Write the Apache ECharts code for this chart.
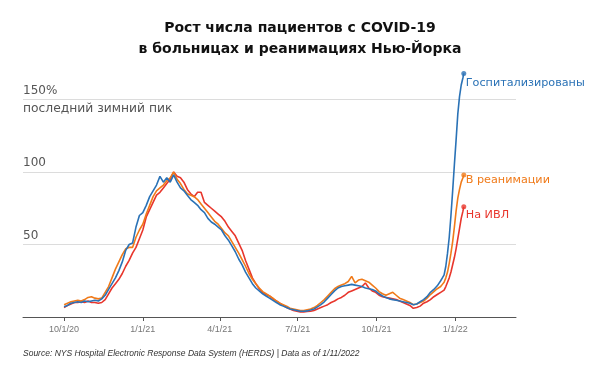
<!DOCTYPE html>
<html>
<head>
<meta charset="utf-8">
<script src="https://cdn.jsdelivr.net/npm/echarts@6/dist/echarts.min.js"></script>
<style>
html,body{margin:0;padding:0;background:#fff;}
#chart{width:600px;height:373px;}
</style>
</head>
<body>
<div id="chart"></div>
<script>
// Days since 10/1/2020
const days = [
  0,4,8,12,16,20,24,28,32,36,
  40,44,48,52,56,60,64,68,72,76,
  80,84,88,92,96,100,104,108,112,116,
  120,124,128,132,136,140,144,148,152,156,
  160,164,168,172,176,180,184,188,192,196,
  200,204,208,212,216,220,224,228,232,236,
  240,244,248,252,256,260,264,268,272,276,
  280,284,288,292,296,300,304,308,312,316,
  320,324,328,332,336,340,344,348,352,356,
  360,364,368,372,376,380,384,388,392,396,
  400,404,408,412,416,420,424,428,432,436,
  440,442,444,446,448,450,452,454,456,458,
  460,462,464,466,467
];
// % of last winter peak
const hospitalized = [
  7,8,9.5,10,10.5,10,11,10.5,11,11.5,
  11,12.5,15,19,23,27,32,38,46,50,
  51,62,70,72,77,83,87,91,97,93,
  96,93,98,93,89,87,84,81,79,77,
  74,72,68,65.5,64,62,60,56,53,49,
  45,40,36,31,27,23,20,18,16,14.5,
  13,11.5,10,8.5,7.5,6.5,5.5,5,4.5,4,
  4,4.2,4.8,5.5,7,8.5,10.5,13,15.5,18,
  20,21,21.5,22,22.5,22,21.5,21,20,19.5,
  19,18,16,14.5,13.5,12.5,12,11.5,11,10.5,
  10,9.5,8.5,9,10.5,12,14,17,19,21.5,
  25,27,29,35,44,55,70,87,105,122,
  140,152,160,165,168
];
const icu = [
  8.5,9.5,10.5,11,11.5,11,12,13.5,14,13,
  12.5,13,17,21,27,33,38,43,47,48,
  48,55,60,64,71,77,83,87,89,91,
  94,96,100,95,92,88,85,84,83,81,
  78,75,72,69,66,64,61,58,56,52,
  48,44,39.5,35,30,26,23,20,17.5,16,
  14.5,13,11,9.5,8.5,7.5,6,5.5,5,4.5,
  4.5,5,5.5,6.5,8,10,12,14.5,17,19.5,
  21,22,23,24.5,28,23.5,25.5,26,25,24,
  22,20,17.5,16,15,16,17,15,13,12,
  11,10,8.5,9,10,11,13,15.5,17.5,19.5,
  21,22.5,24,27,31,37,44,52,62,73,
  82,88,93,96,98
];
const ventilator = [
  6.5,8,9,10,10,10.5,10,11,10,10,
  9.5,10,12,16,20,23,26,30,35,39,
  44,48,54,60,69,74,79,84,86,89,
  92,95,100,97,96,93,88,85,83,86,
  86,79,77,75,73,71,69,66,62,59,
  56,51,46,39,33,27,23,19.5,17,15.5,
  14.5,12.5,11,9.5,8,6.5,5.5,4.5,4,3.5,
  3.5,3.8,4,4.5,5.5,6.5,7.5,8.5,10,11,
  12.5,13.5,15,17,18,19,20,21,23.5,20,
  18,17,15,14,13.5,13,12.5,12,11,10,
  9,8,6,6.5,7.5,9.5,10.5,12,14,15.5,
  17,18,18.5,21,24,27,31,36,41,47,
  54,61,68,73,76
];
const seriesNames = ['Госпитализированы', 'В реанимации', 'На ИВЛ'];
const xTickDays = [0, 92, 182, 273, 365, 457];
const xTickLabels = ['10/1/20', '1/1/21', '4/1/21', '7/1/21', '10/1/21', '1/1/22'];
const yTicks = [50, 100, 150];
const yTickLabels = ['50', '100', '150%'];

const colors = ['#2a72b6', '#f07a19', '#e8362c'];
const pairs = arr => days.map((d, i) => [d, arr[i]]);
const lastPair = arr => [[days[days.length - 1], arr[arr.length - 1]]];

const chart = echarts.init(document.getElementById('chart'), null, {renderer: 'canvas'});
const labelOffsets = [[0, 10], [0, 5], [0, 8]];
const allData = [hospitalized, icu, ventilator];
const order = [2, 1, 0];
const series = [];
order.forEach(i => {
  series.push({
    type: 'line',
    name: seriesNames[i],
    data: pairs(allData[i]),
    showSymbol: false,
    symbol: 'none',
    clip: false,
    lineStyle: {color: colors[i], width: 1.6},
    itemStyle: {color: colors[i]},
    endLabel: {
      show: true,
      formatter: seriesNames[i],
      color: colors[i],
      fontFamily: 'DejaVu Sans',
      fontSize: 11.2,
      distance: 2,
      offset: labelOffsets[i]
    },
    z: 2
  });
});
order.forEach(i => {
  series.push({
    type: 'scatter',
    data: lastPair(allData[i]),
    symbol: 'circle',
    symbolSize: 5,
    clip: false,
    itemStyle: {color: colors[i]},
    z: 3
  });
});

chart.setOption({
  animation: false,
  backgroundColor: '#fff',
  title: {
    text: 'Рост числа пациентов с COVID-19\nв больницах и реанимациях Нью-Йорка',
    left: 'center',
    top: 13,
    textStyle: {
      fontFamily: 'DejaVu Sans',
      fontWeight: 'bold',
      fontSize: 14,
      lineHeight: 21,
      color: '#111'
    }
  },
  grid: {left: 23, right: 84, top: 99.5, bottom: 56, containLabel: false},
  xAxis: {
    type: 'value',
    min: -48,
    max: 528,
    splitLine: {show: false},
    axisLine: {show: true, lineStyle: {color: '#555', width: 1}},
    axisTick: {show: true, customValues: xTickDays, length: 4, lineStyle: {color: '#555'}},
    axisLabel: {
      customValues: xTickDays,
      formatter: v => { const k = xTickDays.indexOf(v); return k >= 0 ? xTickLabels[k] : ''; },
      fontFamily: 'Liberation Sans',
      fontSize: 9,
      color: '#777',
      margin: 8
    }
  },
  yAxis: {
    type: 'value',
    min: 0,
    max: 150,
    interval: 50,
    axisLine: {show: false},
    axisTick: {show: false},
    splitLine: {lineStyle: {color: '#dcdcdc', width: 1}},
    axisLabel: {
      inside: true,
      margin: 0,
      verticalAlign: 'bottom',
      padding: [0, 0, 3, 0],
      formatter: v => { const k = yTicks.indexOf(v); return k >= 0 ? yTickLabels[k] : ''; },
      fontFamily: 'DejaVu Sans',
      fontSize: 12,
      color: '#555'
    }
  },
  graphic: [
    {
      type: 'text',
      left: 23,
      top: 103,
      style: {
        text: 'последний зимний пик',
        fill: '#555',
        font: '12.3px "DejaVu Sans"'
      }
    },
    {
      type: 'text',
      left: 23,
      top: 349,
      style: {
        text: 'Source: NYS Hospital Electronic Response Data System (HERDS) | Data as of 1/11/2022',
        fill: '#333',
        font: 'italic 8.5px "Liberation Sans"'
      }
    }
  ],
  series: series
});
</script>
</body>
</html>
